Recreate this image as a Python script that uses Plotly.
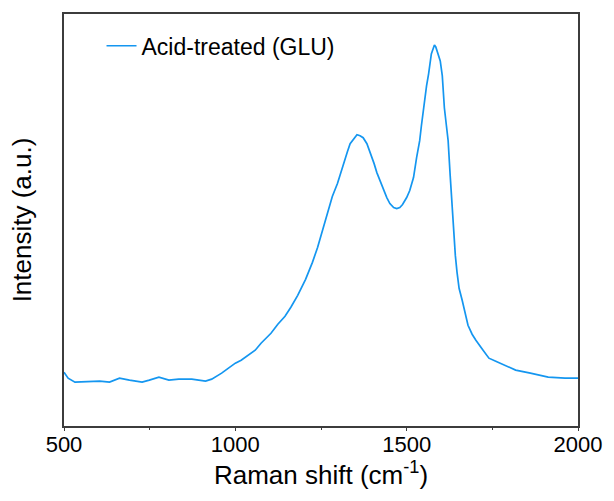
import plotly.graph_objects as go

# Raman shift (cm^-1)
raman_shift = [500, 512, 532, 575, 604, 633, 662, 691, 728, 749, 777, 806, 835, 873, 913, 931, 942, 960, 980,
               1000, 1017, 1038, 1058, 1075, 1087, 1104, 1124, 1145, 1162, 1182, 1205, 1225, 1240,
               1254, 1269, 1283, 1298, 1309, 1318, 1327, 1335, 1347, 1355, 1364, 1373, 1384, 1393,
               1405, 1413, 1422, 1431, 1442, 1451, 1462, 1471, 1480, 1488, 1500, 1509, 1520, 1529,
               1538, 1543, 1552, 1558, 1564, 1572, 1578, 1581, 1585, 1590, 1598, 1604, 1610, 1616, 1621, 1627,
               1636, 1642, 1647, 1653, 1662, 1671, 1679, 1691, 1702, 1723, 1740, 1760, 1780, 1818,
               1861, 1913, 1962, 2000]
# Intensity (a.u.)
intensity = [54, 48, 44, 45, 45, 44, 48, 46, 44, 46, 49, 46, 47, 47, 45, 47, 49, 53, 58,
             63, 66, 71, 76, 83, 87, 93, 102, 110, 119, 131, 147, 164, 179,
             196, 212, 230, 243, 256, 266, 275, 283, 289, 292, 291, 289, 283, 275,
             263, 254, 246, 239, 229, 223, 219, 218, 219, 222, 229, 236, 249, 269,
             286, 301, 329, 341, 353, 373, 379, 382, 380, 375, 366, 351, 319, 301, 286, 251,
             196, 171, 154, 138, 126, 111, 101, 92, 86, 76, 68, 65, 62, 56,
             53, 49, 48, 48]

series_name = "Acid-treated (GLU)"
x_ticks = [500, 1000, 1500, 2000]

font_family = "Arial, Liberation Sans, sans-serif"
frame_color = "#3c3c3c"

fig = go.Figure()
fig.add_trace(go.Scatter(x=raman_shift, y=intensity, mode="lines", name=series_name,
                         line=dict(color="#1496f0", width=1.7)))

fig.update_layout(
    width=614, height=501,
    margin=dict(l=64, r=31, t=13, b=75),
    paper_bgcolor="white", plot_bgcolor="white",
    font=dict(family=font_family, color="black", size=22),
    showlegend=True,
    legend=dict(x=0.073, y=0.975, xanchor="left", yanchor="top",
                bgcolor="rgba(0,0,0,0)", font=dict(size=23, family=font_family)),
)
fig.update_xaxes(
    range=[500, 2000], tickvals=x_ticks, ticks="outside", ticklen=3, tickwidth=1.2,
    tickcolor=frame_color, showline=True, linecolor=frame_color, linewidth=1.5, mirror=True,
    showgrid=False, zeroline=False, tickfont=dict(size=22), ticklabelstandoff=-5,
    minor=dict(dtick=250, tick0=500, ticks="outside", ticklen=2, tickcolor=frame_color),
    title=dict(text="Raman shift (cm<sup>-1</sup>)", font=dict(size=26), standoff=8),
)
fig.update_yaxes(
    range=[0, 413], showticklabels=False, ticks="", showline=True, linecolor=frame_color,
    linewidth=1.5, mirror=True, showgrid=False, zeroline=False,
    title=dict(text="Intensity (a.u.)", font=dict(size=26), standoff=23),
)

fig.write_html("out.html")
